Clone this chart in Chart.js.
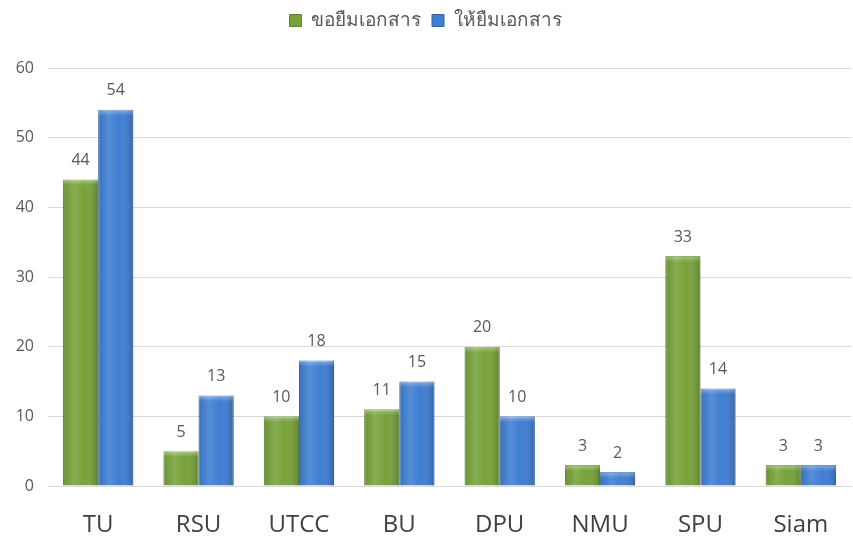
<!DOCTYPE html>
<html>
<head>
<meta charset="utf-8">
<script src="https://cdn.jsdelivr.net/npm/chart.js@4.4.1/dist/chart.umd.min.js"></script>
<style>
  html, body { margin: 0; padding: 0; background: #fff; }
  #wrap { width: 853px; height: 536px; }
</style>
</head>
<body>
<div id="wrap"><canvas id="loan-chart"></canvas></div>
<script>
// Categories and values
let universities = ['TU', 'RSU', 'UTCC', 'BU', 'DPU', 'NMU', 'SPU', 'Siam'];
let borrowLabel = 'ขอยืมเอกสาร';
let lendLabel = 'ให้ยืมเอกสาร';
let borrowData = [44, 5, 10, 11, 20, 3, 33, 3];
let lendData = [54, 13, 18, 15, 10, 2, 14, 3];
let yTicks = [0, 10, 20, 30, 40, 50, 60];

// shading over each bar so they look a bit round, then the numbers on top
const barDecor = {
  id: 'barDecor',
  afterDatasetsDraw(chart) {
    let ctx = chart.ctx;
    ctx.save();
    chart.data.datasets.forEach((ds, i) => {
      chart.getDatasetMeta(i).data.forEach(bar => {
        let x0 = bar.x - bar.width / 2;
        let h = bar.base - bar.y;
        let g = ctx.createLinearGradient(x0, 0, x0 + bar.width, 0);
        g.addColorStop(0, 'rgba(0,0,0,0.08)');
        g.addColorStop(0.3, 'rgba(255,255,255,0.12)');
        g.addColorStop(0.6, 'rgba(255,255,255,0)');
        g.addColorStop(1, 'rgba(0,0,0,0.2)');
        ctx.fillStyle = g;
        ctx.fillRect(x0, bar.y, bar.width, h);
        // light cap at the top
        let capH = Math.min(6, h);
        let cg = ctx.createLinearGradient(0, bar.y, 0, bar.y + capH);
        cg.addColorStop(0, 'rgba(255,255,255,0.35)');
        cg.addColorStop(1, 'rgba(255,255,255,0)');
        ctx.fillStyle = cg;
        ctx.fillRect(x0, bar.y, bar.width, capH);
      });
    });
    ctx.font = '16px "Open Sans", "DejaVu Sans", sans-serif';
    ctx.fillStyle = '#595959';
    ctx.textAlign = 'center';
    ctx.textBaseline = 'bottom';
    chart.data.datasets.forEach((ds, i) => {
      chart.getDatasetMeta(i).data.forEach((bar, j) => {
        ctx.fillText(ds.data[j], bar.x, bar.y - 11);
      });
    });
    ctx.restore();
  }
};

// extra room under the legend
const legendGap = {
  id: 'legendGap',
  beforeInit(chart) {
    let fit = chart.legend.fit;
    chart.legend.fit = function() {
      fit.bind(chart.legend)();
      this.height += 28;
    };
  }
};

let ctx = document.getElementById('loan-chart').getContext('2d');

let loanChart = new Chart(ctx, {
  type: 'bar',
  data: {
    labels: universities,
    datasets: [{
      label: borrowLabel,
      data: borrowData,
      backgroundColor: '#77a23a',
      borderColor: '#5f8a2a',
      borderWidth: 1
    }, {
      label: lendLabel,
      data: lendData,
      backgroundColor: '#3f7ed2',
      borderColor: '#2f64ad',
      borderWidth: 1
    }]
  },
  options: {
    responsive: true,
    maintainAspectRatio: false,
    animation: false,
    layout: { padding: { top: 0, right: 2, left: 0, bottom: 0 } },
    datasets: {
      bar: { categoryPercentage: 0.7, barPercentage: 1.0 }
    },
    plugins: {
      legend: {
        position: 'top',
        labels: {
          boxWidth: 12,
          boxHeight: 12,
          color: '#595959',
          padding: 11,
          font: { size: 19, family: '"Noto Sans", "DejaVu Sans", sans-serif' }
        }
      },
      tooltip: { enabled: false }
    },
    scales: {
      x: {
        afterFit(scale) { scale.height = 50; },
        grid: { display: false },
        border: { color: '#d9d9d9' },
        ticks: {
          color: '#404040',
          padding: 19,
          font: { size: 24, lineHeight: 1.0, family: '"Open Sans", "DejaVu Sans", sans-serif' }
        }
      },
      y: {
        min: 0,
        max: 60,
        afterFit(scale) { scale.width = 48; },
        afterBuildTicks(scale) { scale.ticks = yTicks.map(v => ({ value: v })); },
        grid: { color: '#d9d9d9', drawTicks: false },
        border: { display: false },
        ticks: {
          color: '#595959',
          padding: 14,
          font: { size: 16, family: '"Open Sans", "DejaVu Sans", sans-serif' }
        }
      }
    }
  },
  plugins: [barDecor, legendGap]
});
</script>
</body>
</html>
